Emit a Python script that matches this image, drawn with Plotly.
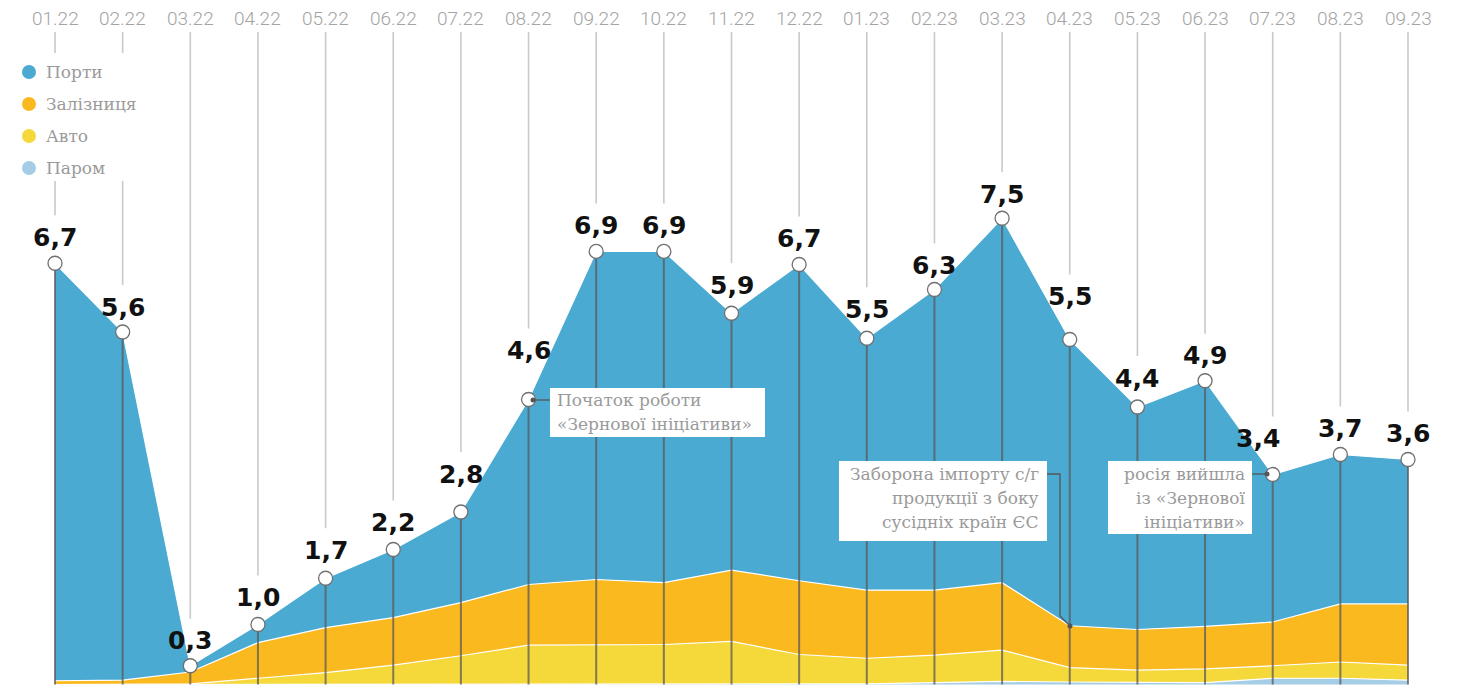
import plotly.graph_objects as go

months = ["01.22", "02.22", "03.22", "04.22", "05.22", "06.22", "07.22", "08.22", "09.22", "10.22",
          "11.22", "12.22", "01.23", "02.23", "03.23", "04.23", "05.23", "06.23", "07.23", "08.23", "09.23"]
ferry = [0, 0, 0, 0.01, 0.01, 0.01, 0.01, 0.01, 0.01, 0.01, 0.01, 0.01, 0.01, 0.03, 0.05, 0.04, 0.03, 0.03, 0.10, 0.10, 0.07]
auto = [0, 0, 0.01, 0.09, 0.18, 0.30, 0.45, 0.62, 0.63, 0.63, 0.68, 0.47, 0.41, 0.44, 0.50, 0.23, 0.20, 0.22, 0.20, 0.26, 0.24]
rail = [0.06, 0.07, 0.19, 0.57, 0.72, 0.76, 0.85, 0.97, 1.04, 0.99, 1.14, 1.18, 1.09, 1.04, 1.08, 0.67, 0.65, 0.68, 0.70, 0.93, 0.98]
ports = [6.68, 5.57, 0.10, 0.29, 0.79, 1.09, 1.45, 2.96, 5.25, 5.30, 4.11, 5.06, 4.03, 4.81, 5.83, 4.58, 3.56, 3.93, 2.36, 2.39, 2.31]
series_names = ["Порти", "Залізниця", "Авто", "Паром"]
colors = {"Порти": "#4aaad2", "Залізниця": "#fbb920", "Авто": "#f5d83a", "Паром": "#a6cde6"}

# label placement (style only): pixels above point, horizontal nudge
label_raise = [26, 25, 25, 27, 28, 27, 38, 49, 26, 26, 28, 26, 29, 24, 24, 43, 29, 25, 36, 26, 26]
label_nudge = {18: -15}

PAGE_W, PAGE_H = 1463, 685
OFF = 8  # default page body margin
X0PX, DX = 55.0, 67.65
BASE, SC = 684.5, 62.5


def dx(p):
    return (p - X0PX) / DX


def dy(p):
    return (BASE - p) / SC


x = list(range(len(months)))
totals = [round(a + b + c + d, 4) for a, b, c, d in zip(ferry, auto, rail, ports)]

fig = go.Figure()
for name, vals in [("Паром", ferry), ("Авто", auto), ("Залізниця", rail), ("Порти", ports)]:
    fig.add_trace(go.Scatter(x=x, y=vals, name=name, stackgroup="one", mode="lines",
                             line=dict(color="white", width=1.2), fillcolor=colors[name],
                             hoverinfo="skip", showlegend=False))

# dark vertical lines from baseline to data points
lx, ly = [], []
for i, t in enumerate(totals):
    lx += [i, i, None]
    ly += [0, t, None]
fig.add_trace(go.Scatter(x=lx, y=ly, mode="lines", line=dict(color="rgba(90,90,90,0.75)", width=2),
                         hoverinfo="skip", showlegend=False))

# light grey guide lines above labels
gx, gy = [], []
for i, t in enumerate(totals):
    bottom = t + (label_raise[i] + 22) / SC
    if i < 2:
        gx += [i, i, None, i, i, None]
        gy += [dy(32), dy(53), None, dy(181), bottom, None]
    else:
        gx += [i, i, None]
        gy += [dy(32), bottom, None]
fig.add_trace(go.Scatter(x=gx, y=gy, mode="lines", line=dict(color="#c9c9c9", width=1.6),
                         hoverinfo="skip", showlegend=False))

fig.add_trace(go.Scatter(x=x, y=totals, mode="markers",
                         marker=dict(size=14, color="white", line=dict(color="#707070", width=1.3)),
                         hoverinfo="skip", showlegend=False))

annotations = []
for i, m in enumerate(months):
    annotations.append(dict(x=i, y=dy(18), xref="x", yref="y", text=m, showarrow=False,
                            font=dict(family="Roboto", size=19, color="#a3a3a3", weight=300),
                            xanchor="center", yanchor="middle"))
for i, t in enumerate(totals):
    annotations.append(dict(x=i, y=t, xref="x", yref="y", text=f"{t:.1f}".replace(".", ","),
                            showarrow=False, yshift=label_raise[i], xshift=label_nudge.get(i, 0),
                            font=dict(family="DejaVu Sans", size=25, color="#111111", weight="bold"),
                            xanchor="center", yanchor="middle"))

shapes = []
for k, name in enumerate(series_names):
    cy = 72 + 32 * k
    r = 7
    shapes.append(dict(type="circle", xref="x", yref="y", x0=dx(29 - r), x1=dx(29 + r),
                       y0=dy(cy + r), y1=dy(cy - r), fillcolor=colors[name], line=dict(width=0)))
    annotations.append(dict(x=dx(44), y=dy(cy), xref="x", yref="y", text=name, showarrow=False,
                            font=dict(family="DejaVu Serif", size=17, color="#9a9a9a"),
                            xanchor="left", yanchor="middle"))

ann_font = dict(family="DejaVu Serif", size=17, color="#9a9a9a")
boxes = [
    dict(x0=550, x1=765, y0=388, y1=437, lines=["Початок роботи", "«Зернової ініціативи»"],
         tx=555, anchor="left", ly0=400),
    dict(x0=839, x1=1047, y0=461, y1=541, lines=["Заборона імпорту с/г", "продукції з боку", "сусідніх країн ЄС"],
         tx=1041, anchor="right", ly0=474),
    dict(x0=1108, x1=1252, y0=461, y1=534, lines=["росія вийшла", "із «Зернової", "ініціативи»"],
         tx=1247, anchor="right", ly0=474),
]
for b in boxes:
    shapes.append(dict(type="rect", xref="x", yref="y", x0=dx(b["x0"]), x1=dx(b["x1"]),
                       y0=dy(b["y1"]), y1=dy(b["y0"]), fillcolor="white", line=dict(width=0), layer="above"))
    for j, ln in enumerate(b["lines"]):
        annotations.append(dict(x=dx(b["tx"]), y=dy(b["ly0"] + 24 * j), xref="x", yref="y", text=ln,
                                showarrow=False, font=ann_font, xanchor=b["anchor"], yanchor="middle"))

conn_color = "#555555"
shapes.append(dict(type="line", xref="x", yref="y", x0=dx(533), x1=dx(550), y0=dy(400), y1=dy(400),
                   line=dict(color=conn_color, width=1.3), layer="above"))
shapes.append(dict(type="path", xref="x", yref="y",
                   path=f"M {dx(1047)} {dy(474)} L {dx(1060)} {dy(474)} L {dx(1060)} {dy(616)} L {dx(1070)} {dy(626)}",
                   line=dict(color=conn_color, width=1.3), layer="above"))
shapes.append(dict(type="line", xref="x", yref="y", x0=dx(1252), x1=dx(1267), y0=dy(474), y1=dy(474),
                   line=dict(color=conn_color, width=1.3), layer="above"))
for (cx, cy) in [(533, 400), (1070, 626), (1267, 474)]:
    shapes.append(dict(type="circle", xref="x", yref="y", x0=dx(cx - 2.5), x1=dx(cx + 2.5),
                       y0=dy(cy + 2.5), y1=dy(cy - 2.5), fillcolor=conn_color, line=dict(width=0), layer="above"))

fig.update_layout(
    width=PAGE_W - OFF, height=PAGE_H - OFF,
    margin=dict(l=0, r=0, t=0, b=0),
    paper_bgcolor="white", plot_bgcolor="white",
    xaxis=dict(range=[dx(OFF), dx(PAGE_W)], visible=False, fixedrange=True),
    yaxis=dict(range=[dy(PAGE_H), dy(OFF)], visible=False, fixedrange=True),
    shapes=shapes, annotations=annotations, showlegend=False,
)

fig.write_html("out.html")
